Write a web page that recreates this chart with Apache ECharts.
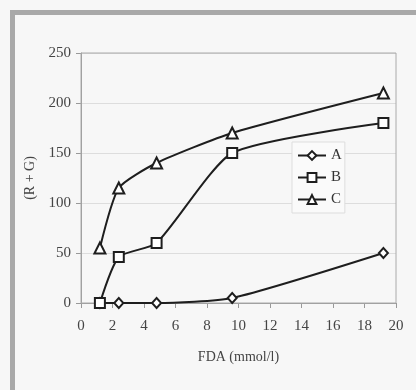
<!DOCTYPE html>
<html>
<head>
<meta charset="utf-8">
<script src="https://cdn.jsdelivr.net/npm/echarts@6/dist/echarts.min.js"></script>
<style>
  html, body { margin: 0; padding: 0; background: #f7f7f7; }
  #chart { width: 416px; height: 390px; }
</style>
</head>
<body>
<div id="chart"></div>
<script>
const fdaValues = [1.2, 2.4, 4.8, 9.6, 19.2];
const seriesA = [0, 0, 0, 5, 50];
const seriesB = [0, 46, 60, 150, 180];
const seriesC = [55, 115, 140, 170, 210];
const seriesNames = ["A", "B", "C"];

const chartDom = document.getElementById("chart");
const myChart = echarts.init(chartDom);

const font = "'Liberation Serif', 'DejaVu Serif', serif";
const ink = "#1e1e1e";

const makeSeries = (name, values, symbol, size) => ({
  name: name,
  type: "line",
  data: fdaValues.map((x, i) => [x, values[i]]),
  smooth: 0.2,
  symbol: symbol,
  symbolSize: size,
  showAllSymbol: true,
  lineStyle: { color: ink, width: 2 },
  itemStyle: { color: ink, borderWidth: 1.5 },
  emphasis: { disabled: true },
  z: 3,
});

const option = {
  backgroundColor: "#f7f7f7",
  animation: false,
  // grey frame on top and left of the picture
  graphic: [
    { type: "rect", shape: { x: 10, y: 10, width: 406, height: 5 }, style: { fill: "#a9a9a9" } },
    { type: "rect", shape: { x: 10, y: 10, width: 5, height: 380 }, style: { fill: "#a9a9a9" } },
    { type: "rect", shape: { x: 81, y: 53, width: 315, height: 250 }, style: { fill: "none", stroke: "#aaa", lineWidth: 1 }, z: 1 },
  ],
  grid: {
    left: 81,
    right: 20,
    top: 53,
    bottom: 87,
  },
  legend: {
    data: seriesNames,
    orient: "vertical",
    left: 292,
    top: 142,
    itemWidth: 28,
    itemHeight: 11,
    itemGap: 7,
    padding: [6, 3, 6, 5],
    backgroundColor: "#fafafa",
    borderColor: "#ddd",
    borderWidth: 1,
    textStyle: { fontFamily: font, fontSize: 15, color: "#333" },
  },
  xAxis: {
    type: "value",
    min: 0,
    max: 20,
    interval: 2,
    name: "FDA (mmol/l)",
    nameLocation: "middle",
    nameGap: 47,
    nameTextStyle: { fontFamily: font, fontSize: 14, color: "#444" },
    axisLine: { show: true, lineStyle: { color: "#999" } },
    axisTick: { show: true, length: 5, lineStyle: { color: "#999" } },
    axisLabel: { fontFamily: font, fontSize: 15, color: "#444", margin: 16 },
    splitLine: { show: false },
  },
  yAxis: {
    type: "value",
    min: 0,
    max: 250,
    interval: 50,
    name: "(R + G)",
    nameLocation: "middle",
    nameGap: 40,
    nameTextStyle: { fontFamily: font, fontSize: 14, color: "#444" },
    axisLine: { show: true, lineStyle: { color: "#999" } },
    axisTick: { show: true, length: 5, lineStyle: { color: "#999" } },
    axisLabel: { fontFamily: font, fontSize: 15, color: "#444", margin: 10 },
    splitLine: { show: true, lineStyle: { color: "#ddd" } },
  },
  series: [
    makeSeries(seriesNames[0], seriesA, "emptyDiamond", [9, 10]),
    makeSeries(seriesNames[1], seriesB, "emptyRect", 10),
    makeSeries(seriesNames[2], seriesC, "emptyTriangle", 11),
  ],
};

myChart.setOption(option);
</script>
</body>
</html>
